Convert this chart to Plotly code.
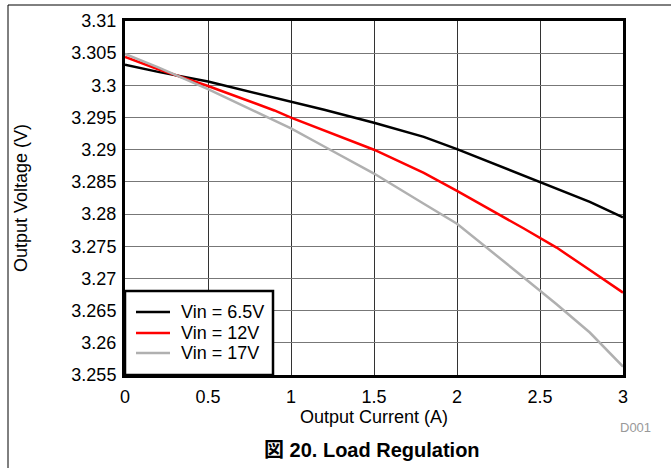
import plotly.graph_objects as go

# Data
current_a = [0.0, 0.2, 0.5, 0.9, 1.0, 1.2, 1.5, 1.8, 2.0, 2.4, 2.6, 2.8, 3.0]
vin_6p5 = [3.3032, 3.3021, 3.3006, 3.2981, 3.2975, 3.2962, 3.2942, 3.2920, 3.2901, 3.2860, 3.2840, 3.2819, 3.2795]
vin_12 = [3.3044, 3.3025, 3.2999, 3.2961, 3.2950, 3.2930, 3.2900, 3.2864, 3.2836, 3.2778, 3.2748, 3.2713, 3.2678]
vin_17 = [3.3049, 3.3028, 3.2994, 3.2946, 3.2933, 3.2905, 3.2863, 3.2816, 3.2785, 3.2702, 3.2660, 3.2616, 3.2563]

series_names = ["Vin = 6.5V", "Vin = 12V", "Vin = 17V"]
series_colors = ["#000000", "#ff0000", "#b0b0b0"]

x_tickvals = [0, 0.5, 1, 1.5, 2, 2.5, 3]
x_ticktext = ["0", "0.5", "1", "1.5", "2", "2.5", "3"]
y_tickvals = [3.255, 3.26, 3.265, 3.27, 3.275, 3.28, 3.285, 3.29, 3.295, 3.3, 3.305, 3.31]
y_ticktext = ["3.255", "3.26", "3.265", "3.27", "3.275", "3.28", "3.285", "3.29", "3.295", "3.3", "3.305", "3.31"]

FONT = "Arial, 'Liberation Sans', 'Noto Sans CJK JP', sans-serif"

# plot area: x 125..623, y 21..375 in a 671x468 canvas
L, R, T, B = 125, 48, 21, 93
W, H = 671, 468
pw, ph = W - L - R, H - T - B


def px_x(px):
    return (px - L) / pw


def px_y(py):
    return (H - B - py) / ph


fig = go.Figure()
for name, ys, col in zip(series_names, [vin_6p5, vin_12, vin_17], series_colors):
    fig.add_trace(go.Scatter(x=current_a, y=ys, mode="lines", name=name,
                             showlegend=False, line=dict(color=col, width=2.5)))

shapes = [
    # outer figure border
    dict(type="rect", xref="paper", yref="paper",
         x0=px_x(8), x1=px_x(690), y0=px_y(490), y1=px_y(5),
         line=dict(color="black", width=1), fillcolor="rgba(0,0,0,0)", layer="below"),
    # legend box
    dict(type="rect", xref="paper", yref="paper",
         x0=px_x(125), x1=px_x(273), y0=px_y(375), y1=px_y(291),
         line=dict(color="black", width=2.5), fillcolor="white", layer="above"),
]
annotations = []
row_y = [312, 333, 353]
for name, col, ry in zip(series_names, series_colors, row_y):
    shapes.append(dict(type="line", xref="paper", yref="paper",
                       x0=px_x(136), x1=px_x(170), y0=px_y(ry), y1=px_y(ry),
                       line=dict(color=col, width=2.5), layer="above"))
    annotations.append(dict(text=name, xref="paper", yref="paper",
                            x=px_x(179), y=px_y(ry), xanchor="left", yanchor="middle",
                            showarrow=False, font=dict(size=18, family=FONT, color="black")))

annotations += [
    dict(text="<b>図 20. Load Regulation</b>", xref="paper", yref="paper",
         x=px_x(372), y=px_y(450), xanchor="center", yanchor="middle",
         showarrow=False, font=dict(size=20, family=FONT)),
    dict(text="D001", xref="paper", yref="paper",
         x=px_x(635), y=px_y(427), xanchor="center", yanchor="middle",
         showarrow=False, font=dict(size=13, color="#999999", family=FONT)),
]

fig.update_layout(
    width=W, height=H,
    margin=dict(l=L, r=R, t=T, b=B, autoexpand=False),
    paper_bgcolor="white", plot_bgcolor="white",
    font=dict(family=FONT, size=18, color="black"),
    showlegend=False,
    hovermode=False,
    xaxis=dict(range=[0, 3], tickvals=x_tickvals, ticktext=x_ticktext,
               showgrid=True, gridcolor="#333333", gridwidth=1,
               zeroline=False, showline=True, mirror=True, linecolor="black", linewidth=3,
               ticks="", ticklabelstandoff=3,
               title=dict(text="Output Current (A)", standoff=3, font=dict(size=18))),
    yaxis=dict(range=[3.255, 3.31], tickvals=y_tickvals, ticktext=y_ticktext,
               showgrid=True, gridcolor="#777777", gridwidth=1,
               zeroline=False, showline=True, mirror=True, linecolor="black", linewidth=3,
               ticks="", ticklabelstandoff=2,
               title=dict(text="Output Voltage (V)", standoff=40, font=dict(size=18))),
    shapes=shapes,
    annotations=annotations,
)

fig.write_html("out.html", config={"displayModeBar": False, "staticPlot": True},
               post_script="document.body.style.margin='0';")
